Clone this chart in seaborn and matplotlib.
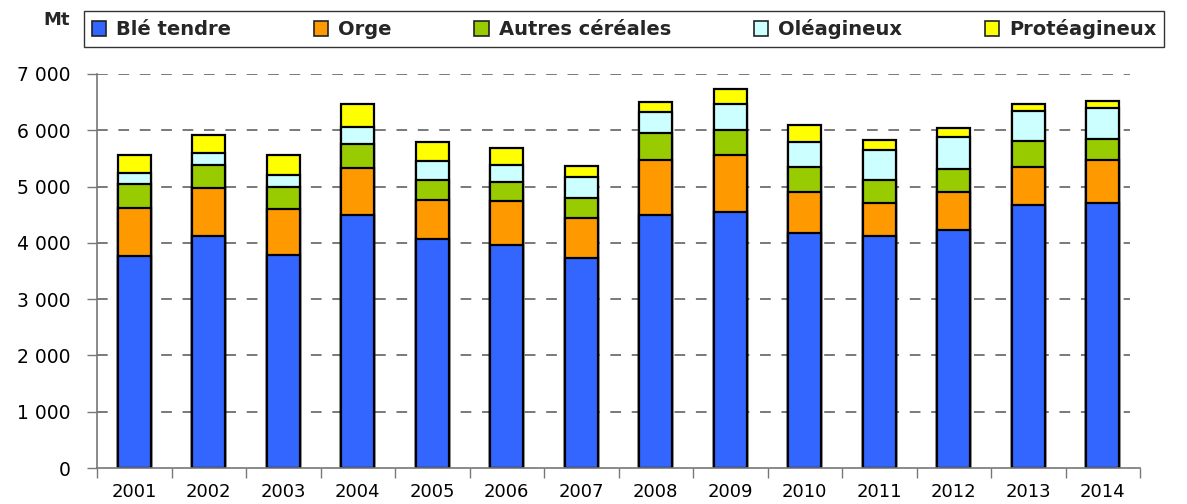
import numpy as np
import pandas as pd
import matplotlib
matplotlib.use("Agg")
import matplotlib.pyplot as plt
import seaborn as sns
from matplotlib.patches import Patch
from matplotlib.ticker import FuncFormatter, FixedLocator

years = ["2001", "2002", "2003", "2004", "2005", "2006", "2007",
         "2008", "2009", "2010", "2011", "2012", "2013", "2014"]
series_names = ["Blé tendre", "Orge", "Autres céréales", "Oléagineux", "Protéagineux"]
ble_tendre   = [3768, 4122, 3792, 4498, 4064, 3968, 3733, 4498, 4551, 4175, 4117, 4234, 4675, 4700]
orge         = [849, 848, 802, 825, 706, 772, 712, 972, 1002, 737, 588, 678, 671, 770]
autres_cer   = [436, 406, 406, 442, 354, 348, 354, 477, 448, 441, 412, 406, 472, 378]
oleagineux   = [187, 224, 205, 295, 328, 294, 378, 378, 471, 447, 530, 565, 530, 553]
proteagineux = [313, 312, 348, 412, 343, 295, 182, 177, 265, 288, 176, 152, 124, 124]
colors = ["#3366FF", "#FF9900", "#99CC00", "#CCFFFF", "#FFFF00"]
y_ticks = [0, 1000, 2000, 3000, 4000, 5000, 6000, 7000]

sns.set_theme(style="white")
plt.rcParams["font.family"] = ["DejaVu Sans"]

values = [ble_tendre, orge, autres_cer, oleagineux, proteagineux]
cum = np.cumsum(np.array(values, dtype=float), axis=0)

fig = plt.figure(figsize=(11.87, 5.04), dpi=100)
ax = fig.add_axes([97 / 1187, 1 - 468 / 504, (1140 - 97) / 1187, (468 - 74) / 504])

# draw from the top of the stack downward so lower segments overlay
for i in range(len(series_names) - 1, -1, -1):
    df = pd.DataFrame({"year": years, "value": cum[i]})
    sns.barplot(data=df, x="year", y="value", color=colors[i], width=0.44,
                edgecolor="black", linewidth=1.6, saturation=1, ax=ax, zorder=3)

ax.set_ylim(0, 7000)
ax.set_xlim(-0.5, len(years) - 0.5)
ax.set_xlabel("")
ax.set_ylabel("")

# grid (stops a little before the axis end, as in the reference)
for v in y_ticks[1:]:
    ax.axhline(v, xmin=0, xmax=0.99, color="#555555", linewidth=1.1,
               linestyle=(0, (7, 7)), zorder=1)

ax.yaxis.set_major_locator(FixedLocator(y_ticks))
ax.yaxis.set_major_formatter(FuncFormatter(lambda v, p: f"{int(v):,}".replace(",", " ")))
ax.tick_params(axis="y", which="major", direction="out", length=7, width=1,
               color="#777777", labelsize=13.5, pad=12, left=True, labelcolor="black")

# x: labels at centers, tick marks at boundaries
ax.set_xticks(range(len(years)))
ax.set_xticklabels(years)
ax.tick_params(axis="x", which="major", length=0, labelsize=13, pad=11, labelcolor="black")
ax.set_xticks(np.arange(-0.5, len(years), 1.0), minor=True)
ax.tick_params(axis="x", which="minor", direction="out", length=7, width=1,
               color="#777777", bottom=True)

for s in ["top", "right"]:
    ax.spines[s].set_visible(False)
for s in ["left", "bottom"]:
    ax.spines[s].set_visible(True)
    ax.spines[s].set_color("#777777")
    ax.spines[s].set_linewidth(1.2)
ax.spines["bottom"].set_zorder(4)

# legend
handles = [Patch(facecolor=c, edgecolor="#222222", linewidth=1.2) for c in colors]
leg = fig.legend(handles, series_names, ncol=5, mode="expand",
                 bbox_to_anchor=(84 / 1187, 1 - 47 / 504, (1164 - 84) / 1187, 35 / 504),
                 loc="lower left", frameon=True, fancybox=False, borderaxespad=0,
                 prop={"weight": "bold", "size": 14}, handlelength=0.75, handleheight=0.75,
                 handletextpad=0.5, columnspacing=1.0, borderpad=0.4)
leg.get_frame().set_edgecolor("black")
leg.get_frame().set_linewidth(1.0)

fig.text(43 / 1187, 1 - 20 / 504, "Mt", fontsize=13, fontweight="bold",
         ha="left", va="center")

fig.savefig("out.png", dpi=100)
